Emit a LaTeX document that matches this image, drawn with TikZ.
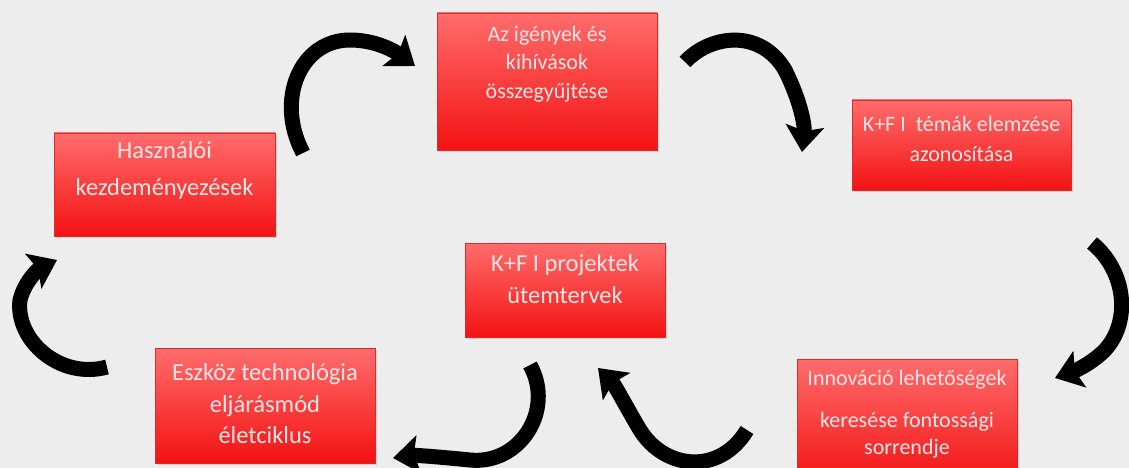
\documentclass[tikz,border=0pt]{standalone}
\usepackage{fontspec}
\setmainfont{Carlito}
\usetikzlibrary{arrows.meta,shadows}
\definecolor{bg}{RGB}{237,237,237}
\definecolor{boxtop}{RGB}{255,108,108}
\definecolor{boxbot}{RGB}{243,18,18}
\definecolor{boxedge}{RGB}{215,45,45}
\definecolor{txt}{RGB}{255,230,230}
\begin{document}
\begin{tikzpicture}[x=1pt,y=-1pt,
  box/.style={rectangle, top color=boxtop, bottom color=boxbot, draw=boxedge, line width=0.8pt, inner sep=0pt,
    drop shadow={shadow xshift=1.5pt, shadow yshift=-2pt, opacity=0.25}},
  lbl/.style={text=txt, align=center, inner sep=0pt, font=\fontsize{23}{29}\selectfont},
  curv/.style={line width=15pt, black, -{Stealth[length=26pt,width=38pt,inset=5pt]}}]
\useasboundingbox (0,0) rectangle (1129,468);
\fill[bg] (0,0) rectangle (1129,468);

% boxes
\node[box, minimum width=220pt, minimum height=137pt] (b1) at (547,81.5) {};
\node[box, minimum width=219pt, minimum height=90pt] (b2) at (961.5,145) {};
\node[box, minimum width=221pt, minimum height=103pt] (b3) at (164.5,184.5) {};
\node[box, minimum width=200pt, minimum height=94pt] (b4) at (565,290) {};
\node[box, minimum width=220pt, minimum height=115pt] (b5) at (265,405.5) {};
\node[box, minimum width=220pt, minimum height=125pt] (b6) at (907,421.5) {};

% texts
\node[lbl, font=\fontsize{22}{28.5}\selectfont] (t1) at (547,64) {Az igények és\\kihívások\\összegyűjtése};
\node[lbl, font=\fontsize{22}{30}\selectfont] (t2) at (961.5,139) {K+F I\ \ témák elemzése\\azonosítása};
\node[lbl, font=\fontsize{24.5}{37}\selectfont] (t3) at (164.5,170) {Használói\\kezdeményezések};
\node[lbl, font=\fontsize{24.5}{32}\selectfont] (t4) at (565,279) {K+F I projektek\\ütemtervek};
\node[lbl, font=\fontsize{24.5}{31.5}\selectfont] (t5) at (265,404) {Eszköz technológia\\eljárásmód\\életciklus};
\node[lbl, font=\fontsize{22}{27}\selectfont] (t6) at (907,414) {Innováció lehetőségek\\[15pt]keresése fontossági\\sorrendje};

% arrow coordinates
\coordinate (a1s) at (303,153); \coordinate (a1e) at (415,66);
\coordinate (a2s) at (685,62);  \coordinate (a2e) at (802,152);
\coordinate (a3s) at (1092,243); \coordinate (a3e) at (1055,378);
\coordinate (a4s) at (747,430); \coordinate (a4e) at (598,368);
\coordinate (a5s) at (530,365); \coordinate (a5e) at (393,458);
\coordinate (a6s) at (107,367); \coordinate (a6e) at (57,260);

\draw[curv] (a1s) .. controls (275,100) and (300,40) .. (350,40) .. controls (380,40) and (400,55) .. (a1e);
\draw[curv] (a2s) .. controls (710,35) and (760,28) .. (785,70) .. controls (800,100) and (805,125) .. (a2e);
\draw[curv] (a3s) .. controls (1125,270) and (1132,320) .. (1105,350) .. controls (1090,365) and (1072,372) .. (a3e);
\draw[curv] (a4s) .. controls (720,475) and (665,470) .. (640,430) .. controls (628,410) and (615,385) .. (a4e);
\draw[curv] (a5s) .. controls (555,410) and (520,465) .. (470,460) .. controls (440,457) and (415,455) .. (a5e);
\draw[curv] (a6s) .. controls (60,380) and (15,340) .. (20,300) .. controls (25,280) and (40,268) .. (a6e);
\end{tikzpicture}
\end{document}
